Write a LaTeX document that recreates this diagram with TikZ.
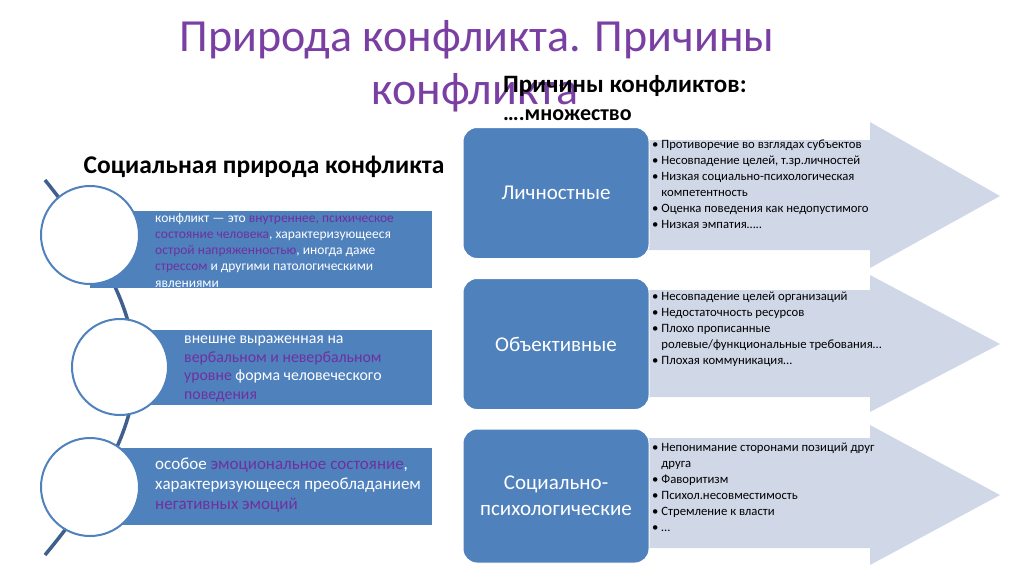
\documentclass[tikz,border=0pt]{standalone}
\usepackage{fontspec}
\setmainfont{Carlito}
\definecolor{ttl}{HTML}{7A3FA3}
\definecolor{pur}{HTML}{7030A0}
\definecolor{bl}{HTML}{4F81BD}
\definecolor{lbl}{HTML}{D0D8E8}
\definecolor{ln}{HTML}{3F5F8C}
\begin{document}
\begin{tikzpicture}[x=1pt,y=-1pt,
 bar/.style={fill=bl,draw=none},
 circ/.style={circle,fill=white,draw=bl,line width=2pt,minimum size=#1,inner sep=0pt},
 bluebox/.style={rounded corners=14pt,fill=bl,draw=white,line width=1pt},
 arr/.style={fill=lbl,draw=none},
 wt/.style={text=white,align=left,anchor=north west,inner sep=0pt},
 lst/.style={align=left,anchor=north west,inner sep=0pt,font=\fontsize{12.7}{16}\selectfont}]
\useasboundingbox (0,0) rectangle (1024,574);
% title
\node (t1) at (477,40) {\fontsize{46}{50}\selectfont\color{ttl}Природа конфликта. Причины};
\node (t2) at (475,93) {\fontsize{46}{50}\selectfont\color{ttl}конфликта};
\node[anchor=west,inner sep=0pt] (h1) at (503,86) {\fontsize{25}{28}\selectfont\bfseries Причины конфликтов:};
\node[anchor=west,inner sep=0pt] (h2) at (503,115) {\fontsize{22}{26}\selectfont\bfseries ….множество};
\node (h3) at (264,167) {\fontsize{25.5}{28}\selectfont\bfseries Социальная природа конфликта};
% left connector
\coordinate (ls) at (45,180);
\coordinate (le) at (45,555);
\draw[ln,line width=3.5pt] (ls) .. controls (165,330) and (165,410) .. (le);
% bars
\fill[bar] (90,211) rectangle (432,288);
\fill[bar] (120,330) rectangle (432,405);
\fill[bar] (90,448) rectangle (432,525);
\node[circ=98pt] (c1) at (90,235) {};
\node[circ=96pt] (c2) at (120,367) {};
\node[circ=98pt] (c3) at (90,487) {};
\node[wt,font=\fontsize{13.5}{16.2}\selectfont] (b1) at (155,213) {конфликт — это \textcolor{pur}{внутреннее, психическое}\\\textcolor{pur}{состояние человека}, характеризующееся\\\textcolor{pur}{острой напряженностью}, иногда даже\\\textcolor{pur}{стрессом} и другими патологическими\\явлениями};
\node[wt,font=\fontsize{15.8}{18.5}\selectfont] (b2) at (184,336) {внешне выраженная на\\\textcolor{pur}{вербальном и невербальном}\\\textcolor{pur}{уровне} форма человеческого\\\textcolor{pur}{поведения}};
\node[wt,font=\fontsize{17}{20}\selectfont] (b3) at (155,458) {особое \textcolor{pur}{эмоциональное состояние},\\характеризующееся преобладанием\\\textcolor{pur}{негативных эмоций}};
% arrows
\fill[arr] (645,140) -- (870,140) -- (870,122) -- (1000,196) -- (870,268) -- (870,250) -- (645,250) -- cycle;
\fill[arr] (645,290) -- (870,290) -- (870,275) -- (1000,344) -- (870,412) -- (870,397) -- (645,397) -- cycle;
\fill[arr] (645,438) -- (870,438) -- (870,425) -- (1000,495) -- (870,565) -- (870,548) -- (645,548) -- cycle;
% blue boxes
\node[bluebox,minimum width=186pt,minimum height=131pt,text=white,font=\fontsize{21}{24}\selectfont] (p1) at (556,193) {Личностные};
\node[bluebox,minimum width=186pt,minimum height=131pt,text=white,font=\fontsize{21}{24}\selectfont] (p2) at (556,344) {Объективные};
\node[bluebox,minimum width=186pt,minimum height=134pt,text=white,font=\fontsize{21}{26}\selectfont,align=center] (p3) at (556,496) {Социально-\\психологические};
% lists
\node[lst] (l1) at (652,140) {• Противоречие во взглядах субъектов\\• Несовпадение целей, т.зр.личностей\\• Низкая социально-психологическая\\\phantom{• }компетентность\\• Оценка поведения как недопустимого\\• Низкая эмпатия…..};
\node[lst] (l2) at (652,292) {• Несовпадение целей организаций\\• Недостаточность ресурсов\\• Плохо прописанные\\\phantom{• }ролевые/функциональные требования…\\• Плохая коммуникация…};
\node[lst] (l3) at (652,443) {• Непонимание сторонами позиций друг\\\phantom{• }друга\\• Фаворитизм\\• Психол.несовместимость\\• Стремление к власти\\• …};
\end{tikzpicture}
\end{document}
